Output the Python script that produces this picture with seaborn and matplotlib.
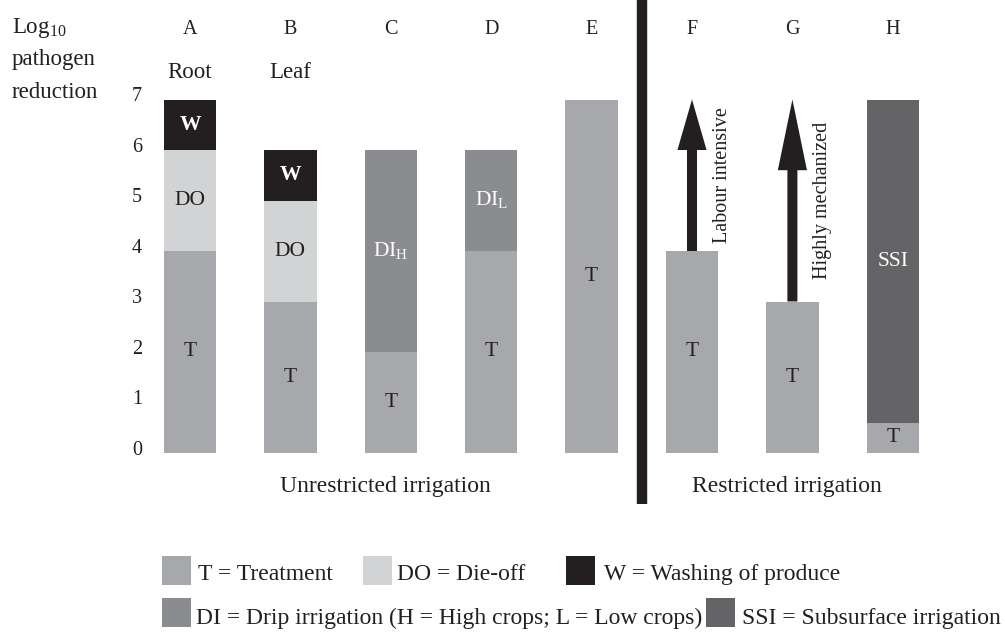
import matplotlib
matplotlib.use("Agg")
import pandas as pd
import seaborn as sns
import matplotlib.pyplot as plt
from matplotlib.patches import Rectangle

# data
letters = ["A", "B", "C", "D", "E", "F", "G", "H"]
crop_type = ["Root", "Leaf", "", "", "", "", "", ""]
treatment = [4, 3, 2, 4, 7, 4, 3, 0.6]
die_off = [2, 2, 0, 0, 0, 0, 0, 0]
drip = [0, 0, 4, 2, 0, 0, 0, 0]
drip_sub = ["", "", "H", "L", "", "", "", ""]
subsurface = [0, 0, 0, 0, 0, 0, 0, 6.4]
washing = [1, 1, 0, 0, 0, 0, 0, 0]
arrow_to = [0, 0, 0, 0, 0, 7, 7, 0]
arrow_text = ["", "", "", "", "", "Labour intensive", "Highly mechanized", ""]
y_ticks = [0, 1, 2, 3, 4, 5, 6, 7]
groups = ["Unrestricted irrigation", "Restricted irrigation"]
legend_text = {
    "T": "T = Treatment",
    "DO": "DO = Die-off",
    "W": "W = Washing of produce",
    "DI": "DI = Drip irrigation (H = High crops; L = Low crops)",
    "SSI": "SSI = Subsurface irrigation",
}

colors = {"T": "#a7a8ab", "DO": "#d2d3d5", "W": "#231f20",
          "DI": "#8b8c8f", "SSI": "#646466"}
ink = "#231f20"
light_text = {"W", "DI", "SSI"}

sns.set_style("white")
plt.rcParams["font.family"] = ["Liberation Serif", "DejaVu Serif"]
plt.rcParams["mathtext.fontset"] = "custom"
plt.rcParams["mathtext.rm"] = "Liberation Serif"

# build stacked segments
rows = []
for i, l in enumerate(letters):
    bottom = 0
    layer = 0
    for comp, vals in [("T", treatment), ("DO", die_off), ("DI", drip),
                       ("SSI", subsurface), ("W", washing)]:
        v = vals[i]
        if v > 0:
            rows.append(dict(pos=i, letter=l, comp=comp, bottom=bottom,
                             top=bottom + v, layer=layer))
            bottom += v
            layer += 1
seg = pd.DataFrame(rows)

# pixel <-> data mapping (axes fills the figure)
W, H = 1005, 632
X0, XS = 190, 100.4
Y0, YS = 453, 50.5
def dx(x):
    return (x - X0) / XS
def dy(y):
    return (Y0 - y) / YS

fig = plt.figure(figsize=(W / 100, H / 100), dpi=100)
ax = fig.add_axes([0, 0, 1, 1])

# draw tallest layer first, lower layers on top
for layer in sorted(seg["layer"].unique(), reverse=True):
    sns.barplot(data=seg[seg["layer"] == layer], x="letter", y="top", hue="comp",
                order=letters, palette=colors, dodge=False, width=0.52,
                saturation=1, linewidth=0, errorbar=None, legend=False, ax=ax)

ax.set_xlim(dx(0), dx(W))
ax.set_ylim(dy(H), dy(0))
ax.axis("off")

# labels inside bars
for _, r in seg.iterrows():
    lab = r["comp"]
    if lab == "DI":
        lab = "DI$_\\mathregular{" + drip_sub[r["pos"]] + "}$"
    col = "white" if r["comp"] in light_text else ink
    weight = "bold" if r["comp"] == "W" else "normal"
    ax.text(r["pos"], (r["bottom"] + r["top"]) / 2, lab, ha="center", va="center",
            fontsize=15.5, color=col, fontweight=weight)

# arrows for restricted irrigation
head_len = {5: 1.0, 6: 1.4}
for i, top in enumerate(arrow_to):
    if top > 0:
        ax.arrow(i, treatment[i], 0, top - treatment[i], width=0.1, head_width=0.29,
                 head_length=head_len[i], length_includes_head=True,
                 color=ink, linewidth=0)
        ax.text(i + 0.30, (top + treatment[i]) / 2, arrow_text[i], rotation=90,
                ha="center", va="center", fontsize=14.5, color=ink)

# column letters and crop type
for i, l in enumerate(letters):
    ax.text(i, dy(34), l, ha="center", va="baseline", fontsize=14.5, color=ink)
    if crop_type[i]:
        ax.text(i, dy(78), crop_type[i], ha="center", va="baseline", fontsize=16.5, color=ink)

# y axis labels
for t in y_ticks:
    ax.text(dx(137), t + 0.05, str(t), ha="center", va="center", fontsize=14.5, color=ink)
ax.text(dx(12), dy(33), "Log$_\\mathregular{10}$", ha="left", va="baseline", fontsize=16.5, color=ink)
ax.text(dx(12), dy(65), "pathogen", ha="left", va="baseline", fontsize=16.5, color=ink)
ax.text(dx(12), dy(98), "reduction", ha="left", va="baseline", fontsize=16.5, color=ink)

# divider and group names
ax.plot([4.5, 4.5], [dy(504), dy(0)], color=ink, linewidth=7.5, solid_capstyle="butt")
ax.text(dx(385), dy(492), groups[0], ha="center", va="baseline", fontsize=17, color=ink)
ax.text(dx(787), dy(492), groups[1], ha="center", va="baseline", fontsize=17, color=ink)

# legend drawn by hand: (key, swatch x, text x, swatch bottom, text baseline)
legend_pos = [("T", 162, 198, 585, 580), ("DO", 363, 397, 585, 580),
              ("W", 566, 604, 585, 580), ("DI", 162, 196, 627, 624),
              ("SSI", 706, 742, 627, 624)]
for comp, sx, tx, sb, tb in legend_pos:
    ax.add_patch(Rectangle((dx(sx), dy(sb)), 29 / XS, 29 / YS,
                           color=colors[comp], linewidth=0))
    ax.text(dx(tx), dy(tb), legend_text[comp], ha="left", va="baseline",
            fontsize=17, color=ink)

fig.savefig("out.png", dpi=100)
